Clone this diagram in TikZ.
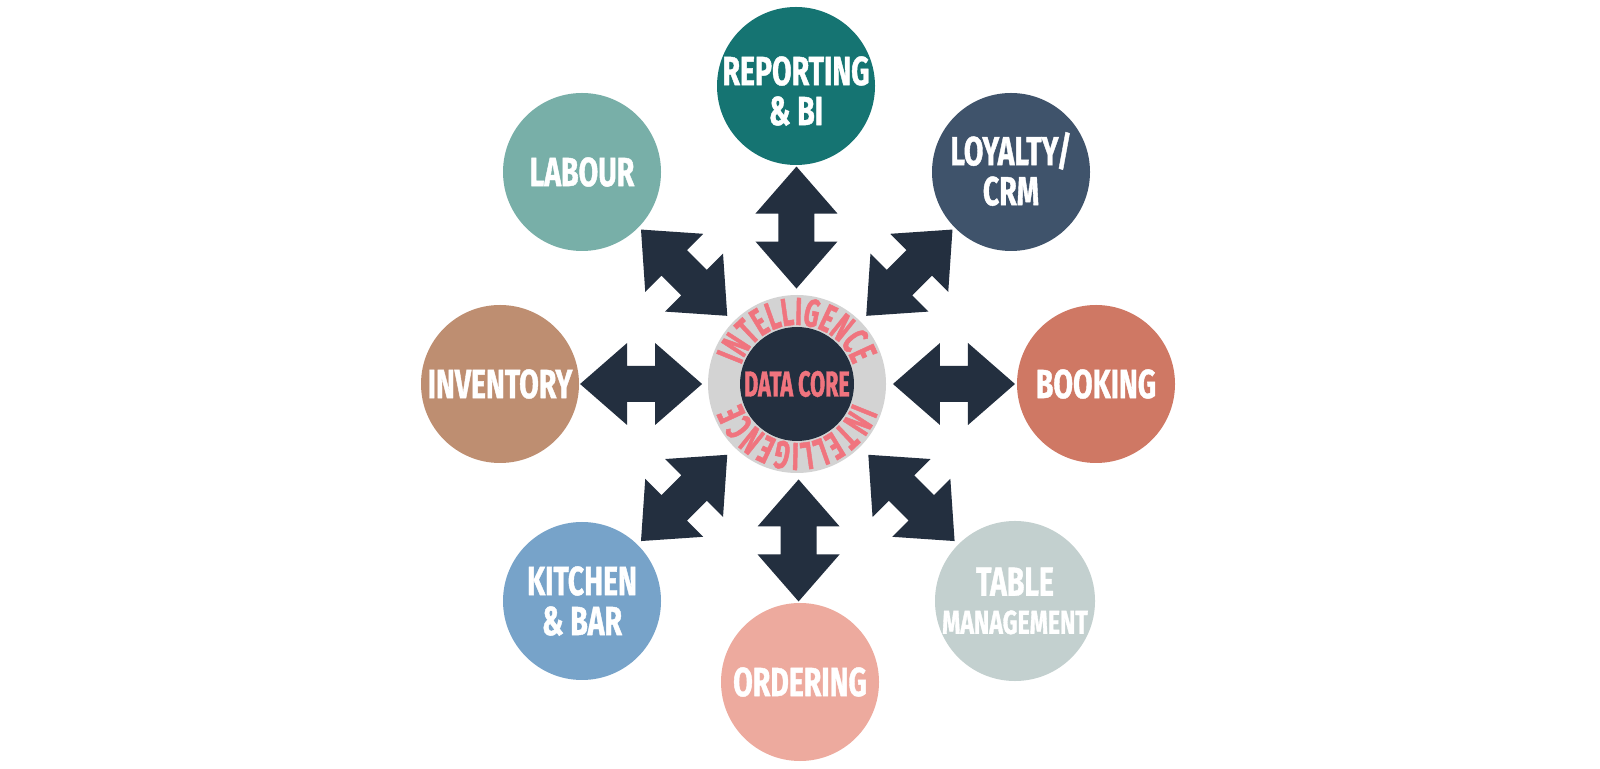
\documentclass[tikz,border=0pt]{standalone}
\usepackage{xcolor}
\usepackage{tikz}
\usepackage{fontspec}
\usetikzlibrary{calc,decorations.text}
\newfontfamily\tilefont[FakeStretch=0.7,BoldFeatures={FakeBold=1}]{Fira Sans}
\newfontfamily\ringfont[FakeStretch=0.6,BoldFeatures={FakeBold=1.2}]{Fira Sans}
\definecolor{repTeal}{HTML}{157472}
\definecolor{labSage}{HTML}{78AFA8}
\definecolor{loyNavy}{HTML}{3F536B}
\definecolor{invTan}{HTML}{BE8E71}
\definecolor{bookCoral}{HTML}{CF7864}
\definecolor{kitSky}{HTML}{77A3C9}
\definecolor{tabMist}{HTML}{C3D0CF}
\definecolor{ordPeach}{HTML}{EDAA9E}
\definecolor{arrowNavy}{HTML}{232F3F}
\definecolor{ringGrey}{HTML}{D3D3D3}
\definecolor{corePink}{HTML}{F0747E}
\tikzset{
  hubtile/.style={circle,minimum size=158pt,inner sep=0pt,text=white,align=center,
    font={\tilefont\bfseries\fontsize{40.6}{40}\selectfont}},
  coredisc/.style={circle,fill=ringGrey,minimum size=178pt,inner sep=0pt},
  coreinner/.style={circle,fill=arrowNavy,minimum size=114pt,inner sep=0pt,text=corePink,
    font={\ringfont\bfseries\fontsize{36}{38}\selectfont}},
  ringtext/.style={decorate,decoration={text along path,text align=center,
    text={|\ringfont\bfseries\fontsize{39}{40}\selectfont\color{corePink}|INTELLIGENCE}}},
  dblarrow/.pic={\fill[arrowNavy] (-61,0) -- (-14,41) -- (-14,18) -- (14,18) -- (14,41)
    -- (61,0) -- (14,-41) -- (14,-18) -- (-14,-18) -- (-14,-41) -- cycle;}
}

\begin{document}
\begin{tikzpicture}[x=1pt,y=1pt]
  \useasboundingbox[fill=white] (0,0) rectangle (1600,768);
  \node[coredisc] (core) at (797,384) {};
  \node[coreinner] (coretext) at (core) {DATA CORE};
  \path[ringtext] ($(core)+(167:59)$) arc (167:13:59);
  \path[ringtext] ($(core)+(-13:59)$) arc (-13:-167:59);
  \node[hubtile, fill=repTeal] (reporting) at (796,682) {};
  \node[hubtile, minimum size=0pt] (reportingtext) at ([yshift=-5pt]reporting.center) {REPORTING\\\& BI};
  \node[hubtile, fill=labSage] (labour) at (582,596) {LABOUR};
  \node[hubtile, fill=loyNavy] (loyalty) at (1011,596) {};
  \node[hubtile, minimum size=0pt] (loyaltytext) at ([yshift=3pt]loyalty.center) {LOYALTY/\\CRM};
  \node[hubtile, fill=invTan] (inventory) at (500,384) {INVENTORY};
  \node[hubtile, fill=bookCoral] (booking) at (1096,384) {BOOKING};
  \node[hubtile, fill=kitSky] (kitchen) at (582,167) {KITCHEN\\\& BAR};
  \node[hubtile, fill=tabMist] (table) at (1015,167) {TABLE\\[-2pt]{\fontsize{33}{30}\selectfont MANAGEMENT}};
  \node[hubtile, fill=ordPeach] (ordering) at (800,86) {ORDERING};
  \foreach \sat/\ang in {reporting/90,ordering/-90,inventory/0,booking/0,
      labour/-45,kitchen/45,loyalty/45,table/-45}
    \pic[rotate=\ang] at ($(core)!0.525!(\sat)$) {dblarrow};
\end{tikzpicture}
\end{document}
